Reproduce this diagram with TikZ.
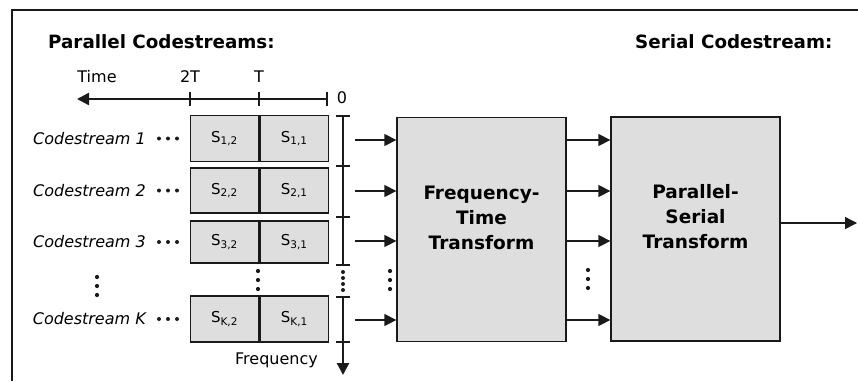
\documentclass[tikz,border=0pt]{standalone}
\usepackage{fontspec}
\setmainfont{DejaVu Sans}
\usetikzlibrary{arrows.meta}
\definecolor{boxgray}{HTML}{DEDEDE}
\definecolor{ink}{HTML}{1A1A1A}
\begin{document}
\begin{tikzpicture}[x=1pt,y=-1pt,
  cell/.style={draw=ink, line width=1.3pt, fill=boxgray, minimum width=68.5pt,
    inner sep=0pt, font=\fontsize{15}{15}\selectfont},
  block/.style={draw=ink, line width=1.3pt, fill=boxgray, minimum width=169pt,
    minimum height=224pt, inner sep=0pt},
  blocktext/.style={align=center, font=\bfseries\fontsize{18.5}{25}\selectfont},
  stream/.style={anchor=east, inner sep=0pt, font=\itshape\fontsize{16}{16}\selectfont},
  feed/.style={draw=ink, line width=1.4pt, -{Triangle[length=12pt,width=12pt]}},
  axis/.style={draw=ink, line width=2.4pt},
  tick/.style={draw=ink, line width=2.2pt},
  lbl/.style={inner sep=0pt, font=\fontsize{16}{16}\selectfont},
  head/.style={anchor=base west, inner sep=0pt, font=\bfseries\fontsize{18.3}{18.3}\selectfont},
  dot/.style={fill=ink, draw=none}
]
\useasboundingbox (0,0) rectangle (858,381);

% frame (top and left edges)
\draw[ink, line width=2pt] (12,381) -- (12,10) -- (858,10);

% headings
\node[head] (hpar) at (48,48) {Parallel Codestreams:};
\node[head] (hser) at (635,48) {Serial Codestream:};

% time axis
\coordinate (tzero) at (327,99);
\coordinate (tend) at (77,99);
\draw[axis, -{Triangle[length=12pt,width=12pt]}] (tzero) -- (tend);
\foreach \x in {190,259,327} \draw[tick] (\x,92) -- (\x,106);
\node[lbl] (ltime) at (97,77) {Time};
\node[lbl] (l2t) at (190,77) {2T};
\node[lbl] (lt) at (259,77) {T};
\node[lbl] (lzero) at (342,98) {0};

% codestream cells
\foreach \r/\y/\h/\k in {1/138.5/46/1, 2/190.5/45/2, 3/242/42/3, 4/319/46/K} {
  \node[cell, minimum height=\h pt] (c\r b) at (224.5,\y) {S\textsubscript{\k,2}};
  \node[cell, minimum height=\h pt, anchor=west] (c\r a) at (c\r b.east) {S\textsubscript{\k,1}};
  \node[stream] (n\r) at (146,\y) {Codestream \k};
  \foreach \dx in {159,168,177} \fill[dot] (\dx,\y) circle (2pt);
}

% vertical ellipses
\foreach \yy in {277,286,295} \fill[dot] (97,\yy) circle (2.1pt);
\foreach \yy in {271,280,289} \fill[dot] (258,\yy) circle (2.1pt);
\foreach \yy in {272,278,284,290} \fill[dot] (343,\yy) circle (2pt);
\foreach \yy in {271,280,289} \fill[dot] (390,\yy) circle (2.1pt);
\foreach \yy in {270,279,288} \fill[dot] (588,\yy) circle (2.1pt);

% frequency axis
\coordinate (ftop) at (343,116);
\coordinate (fmid) at (343,265);
\coordinate (fres) at (343,297);
\coordinate (fbot) at (343,375);
\draw[axis] (ftop) -- (fmid);
\draw[axis, -{Triangle[length=12pt,width=12pt]}] (fres) -- (fbot);
\foreach \yy in {116,166,217,265,297,342} \draw[tick] (336,\yy) -- (350,\yy);
\node[lbl, anchor=east] (lfreq) at (318,360) {Frequency};

% transform blocks
\node[block] (ft) at (481.5,229.5) {};
\node[blocktext] at ([yshift=12pt]ft.center) {Frequency-\\Time\\Transform};
\node[block] (ps) at (695.5,229) {};
\node[blocktext] at ([yshift=12pt]ps.center) {Parallel-\\Serial\\Transform};

% connectors
\foreach \i/\y in {1/140, 2/191, 3/241, 4/320} {
  \coordinate (in\i) at (355,\y);
  \draw[feed] (in\i) -- (in\i -| ft.west);
  \draw[feed] (in\i -| ft.east) -- (in\i -| ps.west);
}
\coordinate (out) at (857,223);
\draw[feed] (out -| ps.east) -- (out);
\end{tikzpicture}
\end{document}
